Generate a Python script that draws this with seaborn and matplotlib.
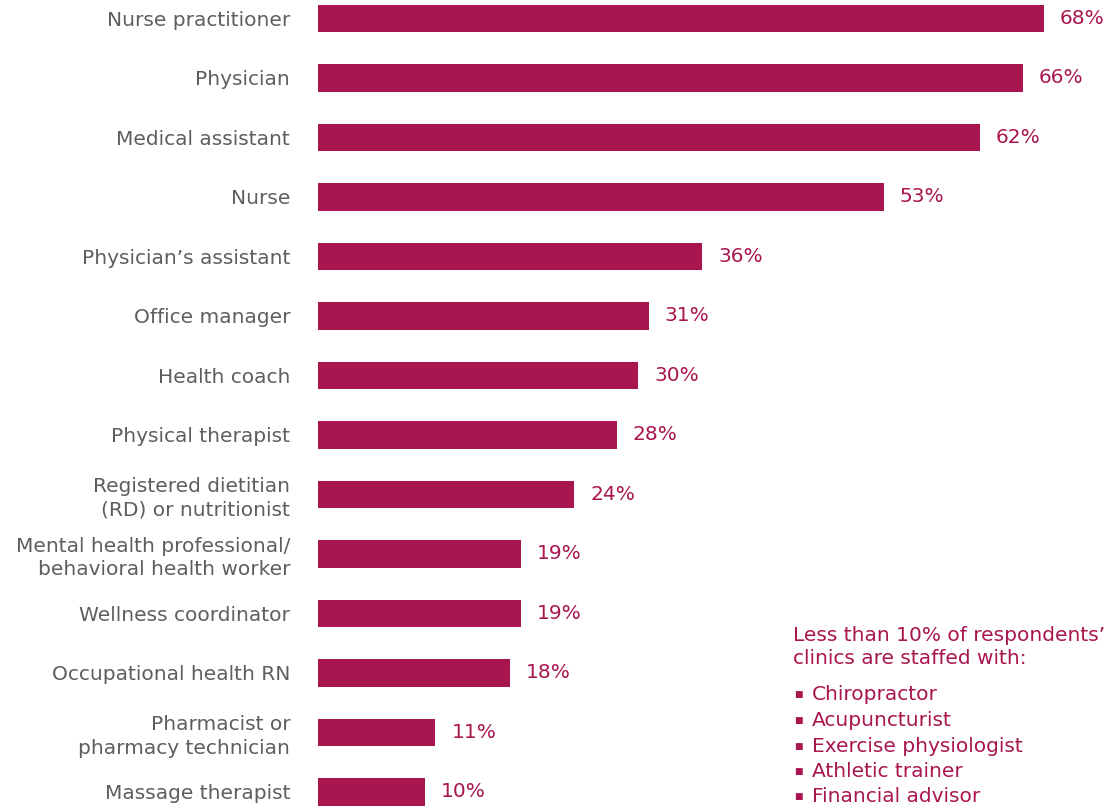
import matplotlib
matplotlib.use("Agg")
import matplotlib.pyplot as plt
import seaborn as sns
import pandas as pd

categories = [
    "Nurse practitioner",
    "Physician",
    "Medical assistant",
    "Nurse",
    "Physician\u2019s assistant",
    "Office manager",
    "Health coach",
    "Physical therapist",
    "Registered dietitian\n(RD) or nutritionist",
    "Mental health professional/\nbehavioral health worker",
    "Wellness coordinator",
    "Occupational health RN",
    "Pharmacist or\npharmacy technician",
    "Massage therapist",
]
values = [68, 66, 62, 53, 36, 31, 30, 28, 24, 19, 19, 18, 11, 10]

note_title = "Less than 10% of respondents\u2019\nclinics are staffed with:"
note_items = ["Chiropractor", "Acupuncturist", "Exercise physiologist",
              "Athletic trainer", "Financial advisor"]

BAR = "#A9154F"
GREY = "#5E5E5E"
FS = 14.5

sns.set_theme(style="white")
plt.rcParams["font.family"] = ["DejaVu Sans"]

df = pd.DataFrame({"role": categories, "pct": values})

W, H = 1108, 808
fig = plt.figure(figsize=(W / 100, H / 100), dpi=100)
ax = fig.add_axes([318 / W, 0, (W - 318) / W, 1])

sns.barplot(data=df, y="role", x="pct", orient="h", color=BAR,
            width=0.46, saturation=1, linewidth=0, ax=ax)

ax.set_xlim(0, 74)
ax.set_ylim(13.27, -0.311)
ax.set_xlabel("")
ax.set_ylabel("")
ax.set_xticks([])
for s in ax.spines.values():
    s.set_visible(False)
ax.tick_params(axis="y", length=0, pad=20)
for lbl in ax.get_yticklabels():
    lbl.set_color(GREY)
    lbl.set_fontsize(FS)
    lbl.set_linespacing(1.3)
    lbl.set_ha("right")

for i, v in enumerate(values):
    ax.annotate(f"{v}%", xy=(v, i), xytext=(11.5, 0), textcoords="offset points",
                va="center", ha="left", color=BAR, fontsize=FS)

fig.text(793 / W, 1 - 626 / H, note_title, color=BAR, fontsize=FS,
         va="top", ha="left", linespacing=1.3)
for k, item in enumerate(note_items):
    y = 1 - (695 + k * 25.5) / H
    fig.text(794 / W, y, "\u25A0", color=BAR, fontsize=6.5, va="center", ha="left")
    fig.text(812 / W, y, item, color=BAR, fontsize=FS, va="center", ha="left")

fig.savefig("out.png", dpi=100)
